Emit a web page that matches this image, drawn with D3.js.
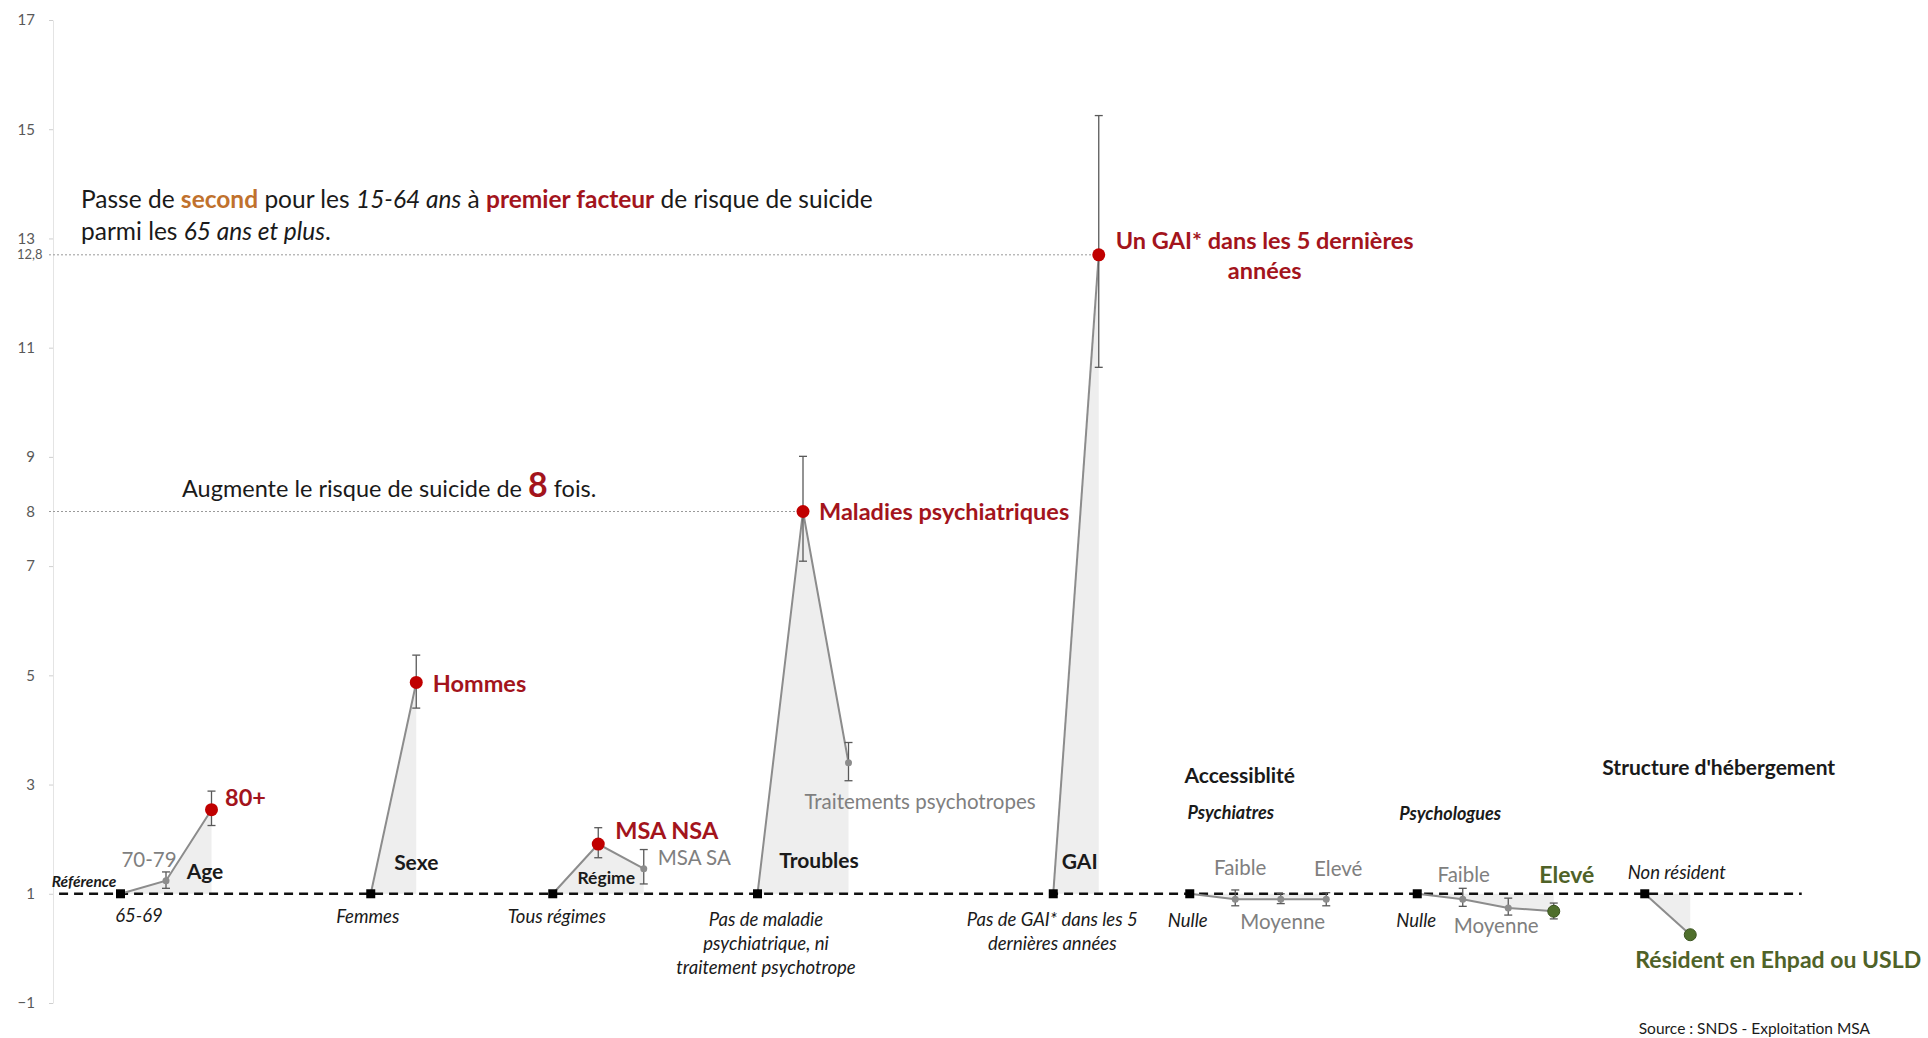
<!DOCTYPE html>
<html><head><meta charset="utf-8">
<script src="https://cdn.jsdelivr.net/npm/d3@7"></script>
<style>
body{margin:0;background:#fff}
svg{display:block;font-family:Lato,"Noto Sans",sans-serif}
text{white-space:pre}
</style>
</head><body>
<svg id="c" width="1928" height="1038"></svg>
<script>
// ---------- DATA ----------
const categories = ["65-69","70-79","80+","Femmes","Hommes","Tous régimes","MSA NSA","MSA SA",
  "Pas de maladie psychiatrique, ni traitement psychotrope","Maladies psychiatriques","Traitements psychotropes",
  "Pas de GAI* dans les 5 dernières années","Un GAI* dans les 5 dernières années",
  "Nulle","Faible","Moyenne","Elevé","Nulle","Faible","Moyenne","Elevé",
  "Non résident","Résident en Ehpad ou USLD"];
const groups = ["Age","Age","Age","Sexe","Sexe","Régime","Régime","Régime","Troubles","Troubles","Troubles",
  "GAI","GAI","Psychiatres","Psychiatres","Psychiatres","Psychiatres",
  "Psychologues","Psychologues","Psychologues","Psychologues","Structure","Structure"];
const xValues = [0,1,2, 5.5,6.5, 9.5,10.5,11.5, 14,15,16, 20.5,21.5, 23.5,24.5,25.5,26.5, 28.5,29.5,30.5,31.5, 33.5,34.5];
const oddsRatio = [1,1.24,2.54, 1,4.87, 1,1.91,1.46, 1,8.0,3.40, 1,12.7, 1,0.90,0.90,0.90, 1,0.90,0.74,0.68, 1,0.25];
const ciLow  = [null,1.10,2.25, null,4.40, null,1.66,1.18, null,7.09,3.07, null,10.64, null,0.78,0.82,0.78, null,0.77,0.61,0.54, null,0.22];
const ciHigh = [null,1.40,2.88, null,5.37, null,2.21,1.81, null,9.01,3.77, null,15.25, null,1.07,1.00,1.02, null,1.10,0.92,0.83, null,0.29];
const status = ["ref","ns","risk", "ref","risk", "ref","risk","ns", "ref","risk","ns", "ref","risk",
  "ref","ns","ns","ns", "ref","ns","ns","protect", "ref","protect"];
const yTicks = [-1,1,3,5,7,9,11,13,15,17];
const highlightValues = [8, 12.7];
const highlightLabels = ["8","12,8"];

// ---------- SETUP ----------
const svg = d3.select("#c");
const x = d3.scaleLinear().domain([0, 34.5]).range([120.5, 1690.25]);
const y = d3.scaleLinear().domain([-1, 17]).range([1003, 20]);
const axisX = 53;

const COL = {red:"#c00000", redText:"#a3141c", green:"#4f6f2c", greenText:"#4f6228",
  gray:"#8c8c8c", grayText:"#7f7f7f", err:"#595959", black:"#1a1a1a", shade:"#eeeeee"};

const pts = categories.map((c,i)=>({c, g:groups[i], x:xValues[i], v:oddsRatio[i], lo:ciLow[i], hi:ciHigh[i], s:status[i], i}));
const byGroup = d3.groups(pts, d=>d.g);

// ---------- AXIS ----------
const ax = svg.append("g").attr("transform",`translate(${axisX},0)`)
  .call(d3.axisLeft(y).tickValues(yTicks).tickSize(4).tickSizeOuter(0).tickPadding(14).tickFormat(d3.format("d")));
ax.select(".domain").attr("stroke","#e4e4e4");
ax.selectAll(".tick line").attr("stroke","#cfcfcf");
ax.selectAll(".tick text").attr("fill","#595959").attr("font-size",15).attr("font-family","Lato");

// highlight labels (8 and 12,8)
const hl = svg.append("g").attr("transform",`translate(${axisX},0)`)
  .call(d3.axisLeft(y).tickValues(highlightValues).tickSize(0).tickPadding(18)
    .tickFormat((d,i)=>highlightLabels[i]));
hl.select(".domain").remove();
hl.selectAll(".tick text").attr("fill","#595959").attr("font-family","Lato")
  .attr("font-size",(d,i)=> i===1 ? 13 : 15)
  .attr("text-anchor",(d,i)=> i===1 ? "start" : "end")
  .attr("x",(d,i)=> i===1 ? -36 : -18);

// ---------- SHADING ----------
const area = d3.area().x(d=>x(d.x)).y0(y(1)).y1(d=>y(d.v));
svg.append("g").selectAll("path").data(byGroup).join("path")
  .attr("d",d=>area(d[1])).attr("fill",COL.shade);

// dotted highlight guides
const hiPts = pts.filter(d=>highlightValues.includes(d.v) && d.s==="risk");
svg.append("g").selectAll("line").data(hiPts).join("line")
  .attr("x1",axisX-4).attr("x2",d=>x(d.x)).attr("y1",d=>y(d.v)).attr("y2",d=>y(d.v))
  .attr("stroke","#9a9a9a").attr("stroke-width",1).attr("stroke-dasharray","2,2");

// ---------- BASELINE ----------
svg.append("line").attr("x1",x(-1.35)).attr("x2",x(36.95)).attr("y1",y(1)).attr("y2",y(1))
  .attr("stroke","#111").attr("stroke-width",2.5).attr("stroke-dasharray","9,6");

// ---------- LINES ----------
const line = d3.line().x(d=>x(d.x)).y(d=>y(d.v));
svg.append("g").selectAll("path").data(byGroup).join("path")
  .attr("d",d=>line(d[1])).attr("fill","none").attr("stroke",COL.gray).attr("stroke-width",2);

// ---------- ERROR BARS ----------
const eb = svg.append("g").attr("stroke",COL.err).attr("stroke-width",1.3);
pts.filter(d=>d.lo!=null).forEach(d=>{
  const cx = x(d.x);
  eb.append("line").attr("x1",cx).attr("x2",cx).attr("y1",y(d.lo)).attr("y2",y(d.hi));
  eb.append("line").attr("x1",cx-4).attr("x2",cx+4).attr("y1",y(d.lo)).attr("y2",y(d.lo));
  eb.append("line").attr("x1",cx-4).attr("x2",cx+4).attr("y1",y(d.hi)).attr("y2",y(d.hi));
});

// ---------- POINTS ----------
const pg = svg.append("g");
pts.forEach(d=>{
  const cx = x(d.x), cy = y(d.v);
  if(d.s==="ref") pg.append("rect").attr("x",cx-4.5).attr("y",cy-4.5).attr("width",9).attr("height",9).attr("fill","#000");
  else if(d.s==="risk") pg.append("circle").attr("cx",cx).attr("cy",cy).attr("r",6.5).attr("fill",COL.red);
  else if(d.s==="protect") pg.append("circle").attr("cx",cx).attr("cy",cy).attr("r",6).attr("fill",COL.green).attr("stroke","#3b5420").attr("stroke-width",1);
  else pg.append("circle").attr("cx",cx).attr("cy",cy).attr("r",3.5).attr("fill",COL.gray);
});

// ---------- LABELS ----------
const STY = {
  refTag:{size:15.5, weight:700, style:"italic", fill:COL.black},
  cat:{size:18.5, weight:400, style:"italic", fill:COL.black},
  title:{size:21, weight:700, style:"normal", fill:COL.black},
  small:{size:17.5, weight:700, style:"normal", fill:COL.black},
  sub:{size:18, weight:700, style:"italic", fill:COL.black},
  ns:{size:20.5, weight:400, style:"normal", fill:COL.grayText},
  risk:{size:23.5, weight:700, style:"normal", fill:COL.redText},
  protect:{size:23, weight:700, style:"normal", fill:COL.greenText}
};
// label text, point index, offset from point (or from baseline at the point's x), anchor
const labels = [
  {t:["Référence"], i:0, dx:-36.5, dy:-12, k:"refTag"},
  {t:["65-69"], i:0, dx:18.5, dy:22, k:"cat"},
  {t:["70-79"], i:1, dx:-17, dy:-21, k:"ns", onPoint:true},
  {t:["Age"], i:2, dx:-6.5, dy:-22, k:"title"},
  {t:["80+"], i:2, dx:13.5, dy:-12, k:"risk", a:"start", onPoint:true},
  {t:["Femmes"], i:3, dx:-3, dy:23, k:"cat"},
  {t:["Sexe"], i:4, dx:0, dy:-31, k:"title"},
  {t:["Hommes"], i:4, dx:16.5, dy:1.5, k:"risk", a:"start", onPoint:true},
  {t:["Tous régimes"], i:5, dx:4, dy:23, k:"cat"},
  {t:["Régime"], i:6, dx:8, dy:-16, k:"small"},
  {t:["MSA NSA"], i:6, dx:17, dy:-13, k:"risk", a:"start", onPoint:true},
  {t:["MSA SA"], i:7, dx:14, dy:-11, k:"ns", a:"start", onPoint:true},
  {t:["Pas de maladie","psychiatrique, ni","traitement psychotrope"], i:8, dx:8.5, dy:26, k:"cat", lh:24},
  {t:["Troubles"], i:9, dx:16, dy:-33, k:"title"},
  {t:["Maladies psychiatriques"], i:9, dx:16, dy:0, k:"risk", a:"start", onPoint:true},
  {t:["Traitements psychotropes"], i:10, dx:71.5, dy:39, k:"ns", onPoint:true},
  {t:["Pas de GAI* dans les 5","dernières années"], i:11, dx:-1, dy:26, k:"cat", lh:24},
  {t:["GAI"], i:12, dx:-19, dy:-32, k:"title"},
  {t:["Un GAI* dans les 5 dernières","années"], i:12, dx:166, dy:-14, k:"risk", lh:30, onPoint:true},
  {t:["Accessiblité"], i:13, dx:50, dy:-118, k:"title"},
  {t:["Psychiatres"], i:13, dx:41, dy:-81, k:"sub"},
  {t:["Nulle"], i:13, dx:-2, dy:27, k:"cat"},
  {t:["Faible"], i:14, dx:5, dy:-31, k:"ns", onPoint:true},
  {t:["Moyenne"], i:15, dx:2, dy:22.5, k:"ns", onPoint:true},
  {t:["Elevé"], i:16, dx:12, dy:-30, k:"ns", onPoint:true},
  {t:["Psychologues"], i:17, dx:33, dy:-80, k:"sub"},
  {t:["Nulle"], i:17, dx:-1, dy:27, k:"cat"},
  {t:["Faible"], i:18, dx:1, dy:-24.5, k:"ns", onPoint:true},
  {t:["Moyenne"], i:19, dx:-12, dy:18, k:"ns", onPoint:true},
  {t:["Elevé"], i:20, dx:13, dy:-36.5, k:"protect", onPoint:true},
  {t:["Structure d'hébergement"], i:21, dx:74, dy:-126, k:"title"},
  {t:["Non résident"], i:21, dx:32, dy:-21, k:"cat"},
  {t:["Résident en Ehpad ou USLD"], i:22, dx:88, dy:25, k:"protect", onPoint:true}
];
const lg = svg.append("g");
labels.forEach(L=>{
  const p = pts[L.i], s = STY[L.k];
  const bx = x(p.x) + L.dx;
  const by = (L.onPoint ? y(p.v) : y(1)) + L.dy + 0.35*s.size;
  const t = lg.append("text").attr("x",bx).attr("y",by)
    .attr("text-anchor",L.a||"middle").attr("font-size",s.size).attr("font-weight",s.weight)
    .attr("font-style",s.style).attr("fill",s.fill);
  L.t.forEach((ln,j)=> t.append("tspan").attr("x",bx).attr("dy", j===0?0:(L.lh||24)).text(ln));
});

// ---------- ANNOTATIONS ----------
function rich(xp, yb, size, parts){
  const t = svg.append("text").attr("x",xp).attr("y",yb).attr("font-size",size).attr("fill",COL.black);
  parts.forEach(p=> t.append("tspan").text(p.t)
    .attr("font-weight",p.b?700:400).attr("font-style",p.i?"italic":"normal")
    .attr("fill",p.c||COL.black).attr("font-size",p.s||size));
  return t;
}
const gaiY = y(12.8), psyY = y(8);
rich(axisX+28, gaiY-41, 24.5, [
  {t:"Passe de "},{t:"second",b:1,c:"#c0712d"},{t:" pour les "},{t:"15-64 ans",i:1},{t:" à "},
  {t:"premier facteur",b:1,c:COL.redText},{t:" de risque de suicide"}]);
rich(axisX+28, gaiY-9, 24.5, [{t:"parmi les "},{t:"65 ans et plus",i:1},{t:"."}]);
rich(axisX+129, psyY-15, 23.5, [{t:"Augmente le risque de suicide de "},{t:"8",b:1,c:COL.redText,s:34},{t:" fois."}]);

svg.append("text").attr("x",1870).attr("y",1034).attr("text-anchor","end")
  .attr("font-size",15.5).attr("fill",COL.black).text("Source : SNDS - Exploitation MSA");
</script>
</body></html>
